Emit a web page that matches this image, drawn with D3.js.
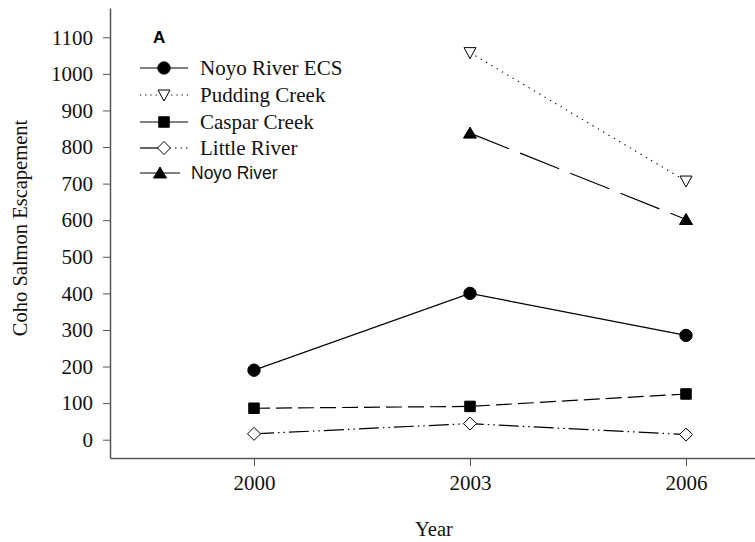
<!DOCTYPE html>
<html><head><meta charset="utf-8">
<script src="https://cdn.jsdelivr.net/npm/d3@7"></script>
<style>body{margin:0;background:#fff}svg{display:block}</style>
</head><body>
<svg id="c" width="755" height="542"></svg>
<script>
const years = [2000, 2003, 2006];
const yTicks = [0,100,200,300,400,500,600,700,800,900,1000,1100];
const noyoECS = [190, 400, 285];
const pudding = [null, 1058, 707];
const caspar = [86, 91, 125];
const little = [16, 44, 14];
const noyo = [null, 838, 602];
const seriesNames = ["Noyo River ECS","Pudding Creek","Caspar Creek","Little River","Noyo River"];

const svg = d3.select("#c");
const x = d3.scaleLinear().domain([1998, 2007]).range([110, 758]);
const y = d3.scaleLinear().domain([-50, 1180]).range([458, 8]);
const axisColor = "#555";
const serif = "'Liberation Serif','Times New Roman',serif";
const sans = "'Liberation Sans', Arial, sans-serif";

const series = [
  {name: seriesNames[0], vals: noyoECS, dash: null, sym: "circle"},
  {name: seriesNames[1], vals: pudding, dash: "1.2,5", sym: "tridown"},
  {name: seriesNames[2], vals: caspar, dash: "16,6", sym: "square"},
  {name: seriesNames[3], vals: little, dash: "20,4,1.5,4,1.5,4", sym: "diamond"},
  {name: seriesNames[4], vals: noyo, dash: "42,12", sym: "triup"}
];

function drawMarker(g, s, cx, cy) {
  let p;
  if (s.sym === "tridown") {
    p = g.append("path").attr("d", `M${cx-6},${cy-5}L${cx+6},${cy-5}L${cx},${cy+6}Z`).attr("fill", "#fff");
  } else if (s.sym === "triup") {
    p = g.append("path").attr("d", `M${cx-6.5},${cy+5}L${cx+6.5},${cy+5}L${cx},${cy-6}Z`).attr("fill", "#000");
  } else if (s.sym === "diamond") {
    p = g.append("path").attr("d", `M${cx},${cy-6.5}L${cx+6.5},${cy}L${cx},${cy+6.5}L${cx-6.5},${cy}Z`).attr("fill", "#fff");
  } else if (s.sym === "square") {
    p = g.append("path").attr("d", d3.symbol(d3.symbolSquare, 110)()).attr("transform", `translate(${cx},${cy})`).attr("fill", "#000");
  } else {
    p = g.append("path").attr("d", d3.symbol(d3.symbolCircle, 120)()).attr("transform", `translate(${cx},${cy})`).attr("fill", "#000");
  }
  p.attr("stroke", "#000").attr("stroke-width", 1);
}

// axes
const yAxis = svg.append("g").attr("transform", "translate(110,0)")
  .call(d3.axisLeft(y).tickValues(yTicks).tickFormat(d3.format("d")).tickSize(7).tickPadding(10).tickSizeOuter(0));
const xAxis = svg.append("g").attr("transform", "translate(0,458)")
  .call(d3.axisBottom(x).tickValues(years).tickFormat(d3.format("d")).tickSize(8).tickPadding(9).tickSizeOuter(0));
[yAxis, xAxis].forEach(a => {
  a.attr("font-family", null).attr("font-size", null);
  a.select(".domain").attr("stroke", axisColor).attr("stroke-width", 1.5);
  a.selectAll(".tick line").attr("stroke", axisColor).attr("stroke-width", 1);
  a.selectAll("text").style("font-family", serif).style("font-size", "21px").attr("fill", "#111");
});
xAxis.selectAll("text").attr("dy", "0.71em");

// lines
const line = d3.line().defined(d => d[1] != null).x(d => x(d[0])).y(d => y(d[1]));
series.forEach(s => {
  const pts = years.map((yr, i) => [yr, s.vals[i]]);
  svg.append("path").datum(pts).attr("d", line).attr("fill", "none")
    .attr("stroke", "#000").attr("stroke-width", 1.2)
    .attr("stroke-dasharray", s.dash);
});
series.forEach(s => {
  const g = svg.append("g");
  years.forEach((yr, i) => { if (s.vals[i] != null) drawMarker(g, s, x(yr), y(s.vals[i])); });
});

// legend
svg.append("text").attr("x", 153).attr("y", 43).text("A")
  .style("font-family", sans).attr("font-weight", "bold").style("font-size", "17px");
const rows = [68, 95, 122, 148, 173];
series.forEach((s, i) => {
  const g = svg.append("g");
  const x2 = i === 4 ? 180 : 188;
  const mx = i === 4 ? 160 : 164;
  if (i === 3) {
    g.append("line").attr("x1", 140).attr("x2", mx).attr("y1", rows[i]).attr("y2", rows[i]).attr("stroke", "#000").attr("stroke-width", 1.2);
    g.append("line").attr("x1", mx).attr("x2", x2).attr("y1", rows[i]).attr("y2", rows[i]).attr("stroke", "#000").attr("stroke-width", 1.2).attr("stroke-dasharray", "1.5,4");
  } else {
    g.append("line").attr("x1", 140).attr("x2", x2).attr("y1", rows[i]).attr("y2", rows[i])
      .attr("stroke", "#000").attr("stroke-width", 1.2).attr("stroke-dasharray", i === 1 ? "1.2,4" : null);
  }
  drawMarker(g, s, mx, rows[i]);
  g.append("text").attr("x", i === 4 ? 191 : 200).attr("y", rows[i]).attr("dy", "0.35em")
    .style("font-family", i === 4 ? sans : serif)
    .style("font-size", i === 4 ? "17.5px" : "21px").attr("fill", "#111").text(s.name);
});

// axis titles
svg.append("text").attr("transform", "translate(27,228) rotate(-90)").attr("text-anchor", "middle")
  .style("font-family", serif).style("font-size", "20.5px").attr("fill", "#111").text("Coho Salmon Escapement");
svg.append("text").attr("x", 434).attr("y", 536).attr("text-anchor", "middle")
  .style("font-family", serif).style("font-size", "20.5px").attr("fill", "#111").text("Year");
</script>
</body></html>
